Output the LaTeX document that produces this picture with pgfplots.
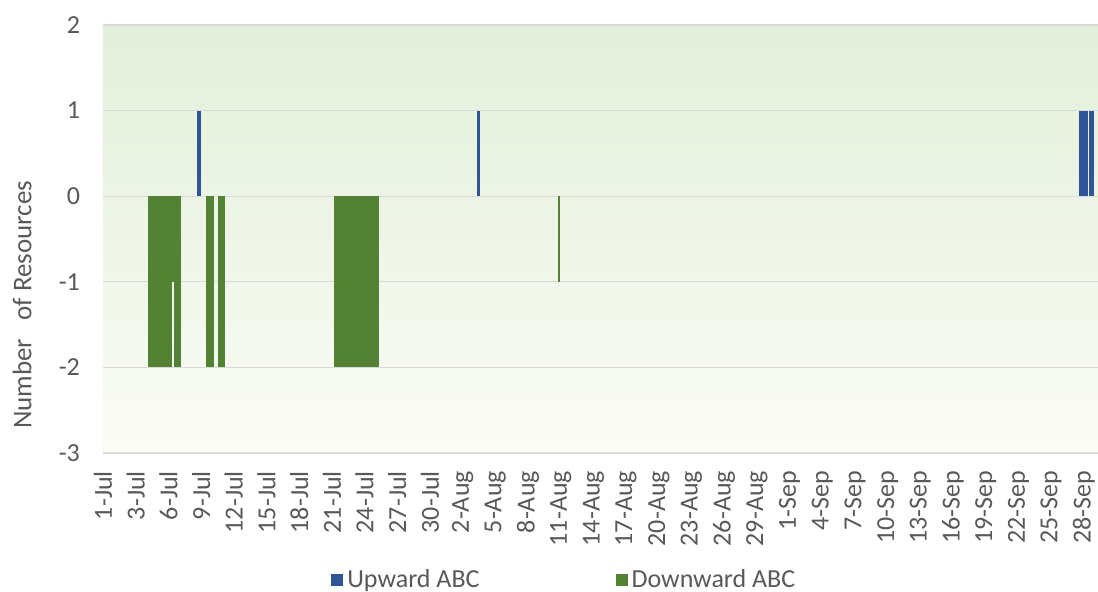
\documentclass[border=0pt]{standalone}
\usepackage{pgfplots}
\pgfplotsset{compat=1.18}
\usepackage{fontspec}
\setmainfont{Carlito}
\definecolor{upblue}{RGB}{47,85,151}
\definecolor{downgreen}{RGB}{84,130,53}
\definecolor{txtgray}{RGB}{89,89,89}
\definecolor{gridgray}{RGB}{217,217,217}
\definecolor{bgtop}{RGB}{226,239,218}
\definecolor{bgbot}{RGB}{251,252,246}
\begin{document}
\begin{tikzpicture}
\begin{axis}[
  at={(0,0)}, anchor=south west,
  scale only axis, width=497.5pt, height=214pt,
  xmin=0, xmax=91.3, ymin=-3, ymax=2,
  axis background/.style={top color=bgtop, bottom color=bgbot},
  axis line style={draw=none},
  ymajorgrids, grid style={gridgray, line width=0.6pt},
  major tick length=0pt,
  ytick={-3,-2,-1,0,1,2},
  yticklabels={-3,-2,-1,0,1,2},
  xtick={0,3,...,90},
  xticklabels={1-Jul,3-Jul,6-Jul,9-Jul,12-Jul,15-Jul,18-Jul,21-Jul,24-Jul,27-Jul,30-Jul,2-Aug,5-Aug,8-Aug,11-Aug,14-Aug,17-Aug,20-Aug,23-Aug,26-Aug,29-Aug,1-Sep,4-Sep,7-Sep,10-Sep,13-Sep,16-Sep,19-Sep,22-Sep,25-Sep,28-Sep},
  tick label style={font=\fontsize{13}{15}\selectfont, text=txtgray},
  xticklabel style={yshift=-5.5pt, rotate=90, anchor=east},
  yticklabel style={xshift=-8pt},
  ylabel={Number\ \ \ of Resources},
  ylabel style={at={(axis description cs:-0.0814,0.346)}, anchor=center, font=\fontsize{13.5}{15}\selectfont, text=txtgray},
  legend columns=2,
  legend style={at={(0.223,-0.297)}, anchor=west, draw=none, fill=none,
    font=\fontsize{13}{15}\selectfont, text=txtgray,
    /tikz/every even column/.append style={column sep=66pt}},
  legend image code/.code={\fill[#1] (0pt,-3pt) rectangle (6pt,3pt);},
]
\addplot[ybar, bar shift=0pt, bar width=0.37, fill=upblue, draw=none] coordinates {(8.81,1)};
\addlegendentry{Upward ABC}
\addplot[ybar, bar shift=0pt, bar width=2.20, fill=downgreen, draw=none] coordinates {(5.23,-2)};
\addlegendentry{Downward ABC}
\addplot[ybar, bar shift=0pt, bar width=0.18, fill=downgreen, draw=none, forget plot] coordinates {(6.42,-1)};
\addplot[ybar, bar shift=0pt, bar width=0.65, fill=downgreen, draw=none, forget plot] coordinates {(6.835,-2)};
\addplot[ybar, bar shift=0pt, bar width=0.73, fill=downgreen, draw=none, forget plot] coordinates {(9.815,-2)};
\addplot[ybar, bar shift=0pt, bar width=0.64, fill=downgreen, draw=none, forget plot] coordinates {(10.87,-2)};
\addplot[ybar, bar shift=0pt, bar width=4.13, fill=downgreen, draw=none, forget plot] coordinates {(23.255,-2)};
\addplot[ybar, bar shift=0pt, bar width=0.28, fill=upblue, draw=none, forget plot] coordinates {(34.45,1)};
\addplot[ybar, bar shift=0pt, bar width=0.19, fill=downgreen, draw=none, forget plot] coordinates {(41.835,-1)};
\addplot[ybar, bar shift=0pt, bar width=0.83, fill=upblue, draw=none, forget plot] coordinates {(89.955,1)};
\addplot[ybar, bar shift=0pt, bar width=0.46, fill=upblue, draw=none, forget plot] coordinates {(90.69,1)};
\end{axis}
\pgfresetboundingbox
\path[use as bounding box] (-51.5pt,-69.5pt) rectangle (497.5pt,226.5pt);
\end{tikzpicture}
\end{document}
